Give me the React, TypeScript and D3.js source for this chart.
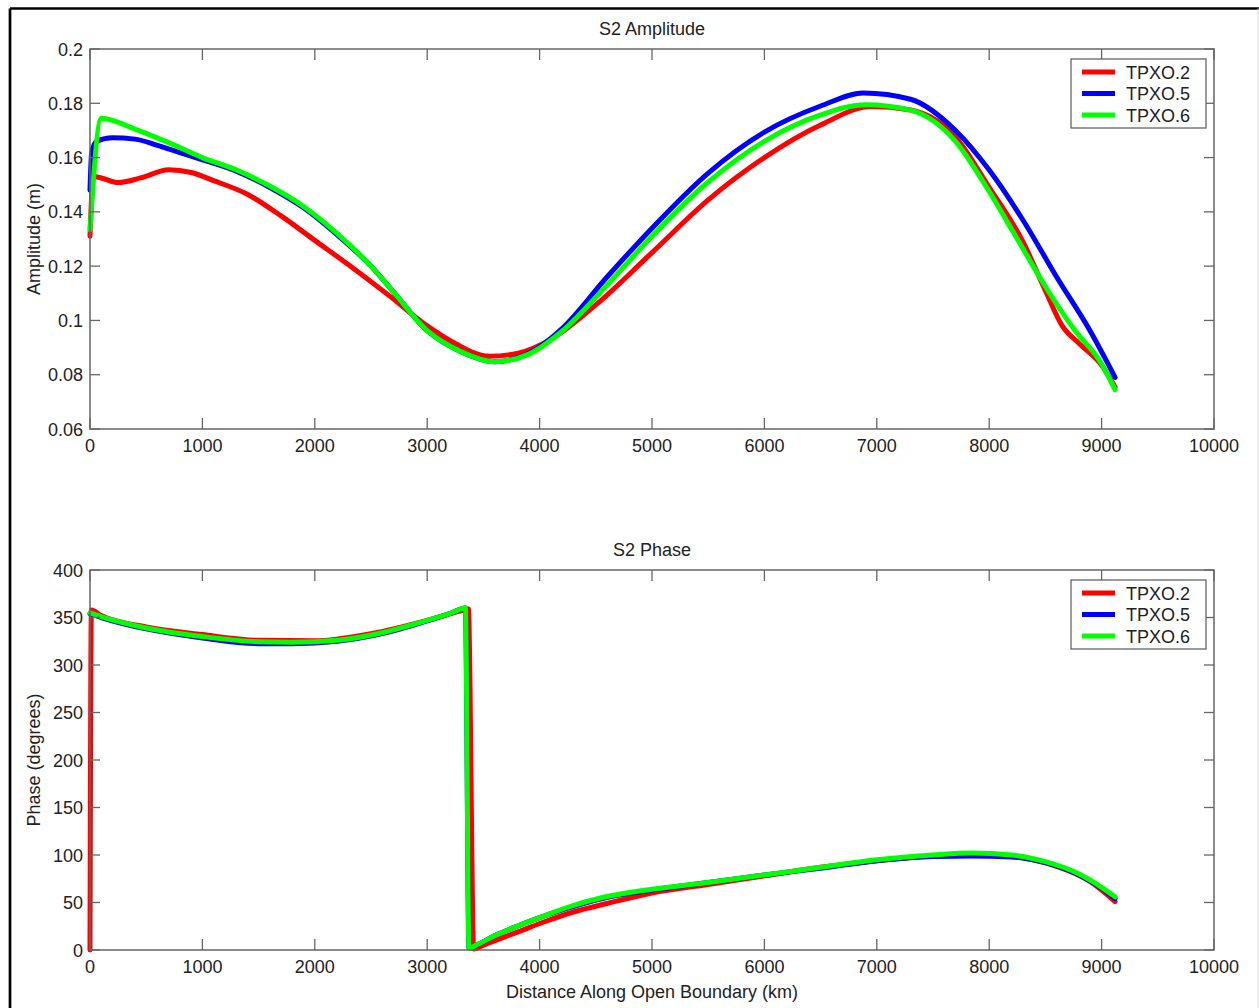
import React from 'react';
import * as d3 from 'd3';

// distance along the open boundary (km) and values
const ampRedX = [0, 30, 100, 250, 450, 700, 900, 1100, 1400, 1700, 2000, 2300, 2650, 3000, 3250, 3550, 3800, 4100, 4500, 5000, 5500, 6000, 6500, 6950, 7300, 7700, 8000, 8300, 8500, 8650, 8800, 9000, 9120];
const ampRed = [0.131, 0.153, 0.1525, 0.1508, 0.1525, 0.1555, 0.1545, 0.1515, 0.1465, 0.1385, 0.1295, 0.1205, 0.1095, 0.098, 0.0915, 0.0868, 0.0878, 0.093, 0.1057, 0.125, 0.1444, 0.16, 0.172, 0.1788, 0.1775, 0.1675, 0.149, 0.129, 0.111, 0.098, 0.0915, 0.0835, 0.0755];

const ampBlueX = [0, 15, 60, 200, 400, 600, 800, 1000, 1300, 1600, 1900, 2200, 2500, 2700, 3000, 3300, 3600, 3900, 4200, 4600, 5000, 5500, 6000, 6500, 6880, 7300, 7700, 8000, 8300, 8600, 8900, 9120];
const ampBlue = [0.148, 0.162, 0.166, 0.1673, 0.1668, 0.1645, 0.1618, 0.1592, 0.155, 0.149, 0.1415, 0.1315, 0.12, 0.1105, 0.0962, 0.0885, 0.0848, 0.0878, 0.097, 0.116, 0.134, 0.1543, 0.1694, 0.179, 0.1838, 0.1815, 0.17, 0.1554, 0.137, 0.116, 0.096, 0.079];

const ampGreenX = [0, 100, 400, 700, 1000, 1300, 1600, 1900, 2200, 2500, 2700, 3000, 3300, 3600, 3900, 4200, 4600, 5000, 5500, 6000, 6500, 6900, 7300, 7700, 8000, 8250, 8500, 8750, 9000, 9120];
const ampGreen = [0.1335, 0.1745, 0.1705, 0.1655, 0.16, 0.1555, 0.1495, 0.142, 0.132, 0.12, 0.1105, 0.0962, 0.0885, 0.0848, 0.0875, 0.096, 0.113, 0.131, 0.151, 0.166, 0.1757, 0.1795, 0.1775, 0.166, 0.1475, 0.13, 0.1125, 0.097, 0.084, 0.0745];

const phRedX = [0, 12, 100, 500, 1000, 1500, 2000, 2500, 3000, 3300, 3366, 3414, 3500, 3650, 3850, 4050, 4300, 4600, 5000, 5500, 6000, 6500, 7000, 7500, 7900, 8300, 8600, 8900, 9120];
const phRed = [0, 358, 352, 340, 332, 326, 325.5, 333, 347, 357, 359, 1, 5, 12, 21, 30, 40, 49, 60, 69, 78, 87, 94, 99, 101, 97, 88, 72, 51];

const phBlueX = [0, 100, 500, 1000, 1500, 1800, 2200, 2600, 3000, 3200, 3340, 3372, 3450, 3600, 3800, 4000, 4250, 4550, 5000, 5500, 6000, 6500, 7000, 7500, 7850, 8200, 8500, 8800, 9000, 9120];
const phBlue = [354, 350, 338, 328.5, 322.5, 322.5, 325, 333, 346.5, 354, 360, 2, 6, 15, 25, 34, 44, 54, 63, 71, 79, 86, 94, 98.5, 99, 98, 92, 79, 65, 54];

const phGreenX = [0, 100, 500, 1000, 1500, 1800, 2200, 2600, 3000, 3200, 3340, 3372, 3450, 3600, 3800, 4000, 4250, 4550, 5000, 5500, 6000, 6500, 7000, 7500, 7850, 8200, 8500, 8800, 9000, 9120];
const phGreen = [355, 351, 339, 330, 324.5, 324, 326, 334, 347, 354, 360, 2, 6, 15, 25, 34, 45, 55, 64, 71, 79, 87, 95, 100, 102, 100, 93, 80, 66, 56];

const seriesNames = ['TPXO.2', 'TPXO.5', 'TPXO.6'];
const seriesColors = ['#ff0000', '#0000ff', '#00ff00'];

const distTicks = [0, 1000, 2000, 3000, 4000, 5000, 6000, 7000, 8000, 9000, 10000];
const ampTicks = [0.06, 0.08, 0.1, 0.12, 0.14, 0.16, 0.18, 0.2];
const phaseTicks = [0, 50, 100, 150, 200, 250, 300, 350, 400];

const font = '"Liberation Sans", Arial, Helvetica, sans-serif';
const axisColor = '#666';

const zip = (xs, ys) => xs.map((x, i) => [x, ys[i]]);

function Panel({ top, bottom, yDomain, yTicks, fmt, title, yLabel, xLabel, series }) {
  const left = 90;
  const right = 1214;
  const x = d3.scaleLinear().domain([0, 10000]).range([left, right]);
  const y = d3.scaleLinear().domain(yDomain).range([bottom, top]);
  const line = d3.line().x(d => x(d[0])).y(d => y(d[1])).curve(d3.curveMonotoneX);
  const lgX = 1071, lgY = top + 10;

  return (
    <g fontFamily={font} fill="#222">
      <text x={(left + right) / 2} y={top - 14} textAnchor="middle" fontSize={18}>{title}</text>
      {series.map((s, i) => (
        <path key={i} d={line(s)} fill="none" stroke={seriesColors[i]} strokeWidth={5} strokeLinejoin="round" strokeLinecap="round" />
      ))}
      <rect x={left} y={top} width={right - left} height={bottom - top} fill="none" stroke={axisColor} strokeWidth={1.5} />
      {distTicks.map(t => (
        <g key={t}>
          <line x1={x(t)} x2={x(t)} y1={bottom} y2={bottom - 11} stroke={axisColor} strokeWidth={1.3} />
          <line x1={x(t)} x2={x(t)} y1={top} y2={top + 11} stroke={axisColor} strokeWidth={1.3} />
          <text x={x(t)} y={bottom + 23} textAnchor="middle" fontSize={18}>{t}</text>
        </g>
      ))}
      {yTicks.map(t => (
        <g key={t}>
          <line x1={left} x2={left + 10} y1={y(t)} y2={y(t)} stroke={axisColor} strokeWidth={1.3} />
          <line x1={right} x2={right - 10} y1={y(t)} y2={y(t)} stroke={axisColor} strokeWidth={1.3} />
          <text x={83} y={y(t) + 6.5} textAnchor="end" fontSize={18}>{fmt(t)}</text>
        </g>
      ))}
      <text transform={`translate(40,${(top + bottom) / 2}) rotate(-90)`} textAnchor="middle" fontSize={18}>{yLabel}</text>
      {xLabel && <text x={(left + right) / 2} y={bottom + 48} textAnchor="middle" fontSize={18}>{xLabel}</text>}
      <rect x={lgX} y={lgY} width={135} height={69} fill="#fff" stroke={axisColor} strokeWidth={1.3} />
      {seriesNames.map((n, i) => (
        <g key={n}>
          <line x1={lgX + 11} x2={lgX + 44} y1={lgY + 13 + i * 21.5} y2={lgY + 13 + i * 21.5} stroke={seriesColors[i]} strokeWidth={5} />
          <text x={lgX + 55} y={lgY + 13 + i * 21.5 + 6.5} fontSize={18}>{n}</text>
        </g>
      ))}
    </g>
  );
}

export default function App() {
  const ampFmt = d3.format('~g');
  const phFmt = d3.format('d');
  return (
    <svg width={1259} height={1008} style={{ position: 'absolute', left: 0, top: 0, background: '#fff' }}>
      <rect x={0} y={0} width={1259} height={1008} fill="#fff" />
      <line x1={10} x2={1259} y1={8.5} y2={8.5} stroke="#000" strokeWidth={2.7} />
      <line x1={10} x2={10} y1={8.5} y2={1008} stroke="#000" strokeWidth={2.7} />
      <line x1={1258} x2={1258} y1={8.5} y2={1008} stroke="#ddd" strokeWidth={1} />
      <Panel
        top={49}
        bottom={429}
        yDomain={[0.06, 0.2]}
        yTicks={ampTicks}
        fmt={ampFmt}
        title="S2 Amplitude"
        yLabel="Amplitude (m)"
        xLabel={null}
        series={[zip(ampRedX, ampRed), zip(ampBlueX, ampBlue), zip(ampGreenX, ampGreen)]}
      />
      <Panel
        top={570}
        bottom={950}
        yDomain={[0, 400]}
        yTicks={phaseTicks}
        fmt={phFmt}
        title="S2 Phase"
        yLabel="Phase (degrees)"
        xLabel="Distance Along Open Boundary (km)"
        series={[zip(phRedX, phRed), zip(phBlueX, phBlue), zip(phGreenX, phGreen)]}
      />
    </svg>
  );
}
